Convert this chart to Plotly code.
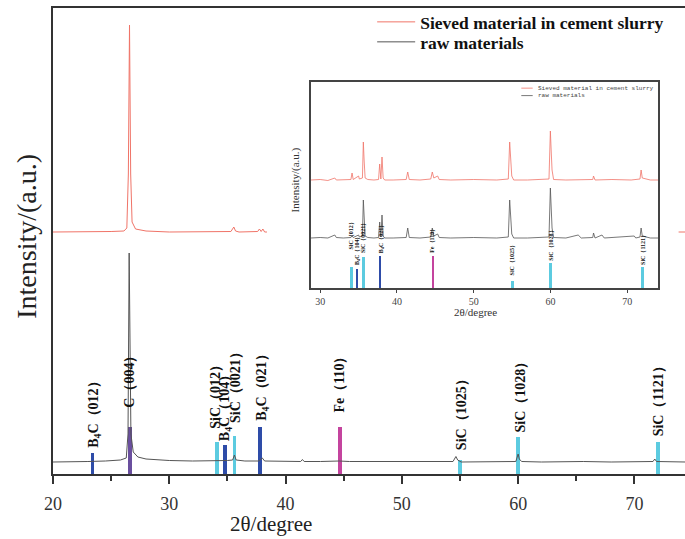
import plotly.graph_objects as go

# ---------------- main pattern data (2theta, intensity a.u.) ----------------
raw_x = [20, 21.5, 23, 24.5, 25.8, 26.3, 26.45, 26.55, 26.62, 26.7, 26.9, 27.3, 28, 30, 32, 33.5,
         34.1, 35.0, 35.45, 35.6, 35.75, 36.5, 37.7, 38.0, 38.2, 39.5, 41.3, 41.45, 41.6, 43, 44.6,
         45.5, 48, 50, 52, 54.4, 54.65, 54.8, 55.1, 57, 59.8, 60.0, 60.1, 60.3, 62, 65.6, 68, 71.6,
         71.75, 71.9, 73, 74.4]
raw_y = [12, 12, 12.5, 13, 14, 16, 40, 221, 120, 40, 22, 17, 15, 13.5, 13, 13,
         13.5, 13.5, 14, 19, 14, 13, 13, 16, 13, 12.5, 12.5, 14.5, 12.5, 12.5, 13,
         12.5, 12.5, 12, 12, 12.5, 17.5, 14, 12, 12, 12.5, 20, 15, 12.5, 12, 12.5, 12, 12.5,
         15, 12.5, 12, 12]

sieved_x = [20, 22, 23.4, 23.6, 25, 26.1, 26.35, 26.48, 26.58, 26.68, 26.8, 27.1, 28, 30, 32, 34,
            35.3, 35.55, 35.7, 36, 37, 37.6, 37.75, 37.9, 38.05, 38.2, 38.4, None, 73.8, 74.4]
sieved_y = [242, 242, 242.5, 242, 242.5, 243, 246, 300, 449, 300, 252, 245, 243, 242, 242, 242,
            242.5, 247, 243, 242, 242, 242.5, 245, 242.5, 245, 242, 242, None, 242, 242]

# ---------------- reference sticks ----------------
ref_pos = [23.4, 26.6, 34.1, 34.8, 35.6, 37.8, 44.7, 55.0, 60.0, 72.0]
ref_phase = ["B4C", "C", "SiC", "B4C", "SiC", "B4C", "Fe", "SiC", "SiC", "SiC"]
ref_main_h = [21, 47, 32, 29, 38, 47, 47, 14, 37, 32]
ref_labels = ["B<sub>4</sub>C（012）", "C（004）", "SiC（012）", "B<sub>4</sub>C（104）",
              "SiC（0021）", "B<sub>4</sub>C（021）", "Fe（110）", "SiC（1025）", "SiC（1028）",
              "SiC（1121）"]
label_x = [23.55, 26.55, 33.95, 34.85, 35.65, 38.0, 44.6, 55.1, 60.2, 72.1]
label_base = [24, 64, 43, 31, 49, 51, 59, 22, 40, 36]

phase_colors = {"B4C": "#2e4ca8", "C": "#6a4f9e", "SiC": "#5ccbe0", "Fe": "#c4449e"}

# ---------------- inset data ----------------
ins_sieved_x = [28.8, 30, 31, 31.9, 32.1, 33, 34.0, 34.15, 34.3, 35.0, 35.1, 35.5, 35.62, 35.72,
                35.85, 36.2, 37, 37.6, 37.75, 37.9, 38.05, 38.2, 38.4, 39.5, 41.2, 41.4, 41.6, 43,
                44.4, 44.6, 44.8, 45.3, 45.5, 47, 50, 53, 54.5, 54.68, 54.8, 54.95, 55.2, 57, 59.8,
                59.98, 60.1, 60.2, 60.4, 62, 65.5, 65.6, 65.8, 68, 70.5, 71.65, 71.8, 71.95, 73, 74]
ins_sieved_y = [108, 108.5, 107.5, 110, 108, 108, 108.5, 115, 108.5, 112, 109, 110, 146, 128,
                110, 108.5, 108, 108.5, 124, 109, 131, 110, 108, 108, 108.5, 116, 108.5, 108,
                109, 116, 110, 112, 108.5, 108, 108.5, 108, 109, 146, 131, 112, 108, 108, 109,
                157, 135, 118, 108.5, 108, 108.5, 112, 108, 108.5, 108, 109, 118, 110, 108, 108]

ins_raw_x = [28.8, 30, 31, 31.9, 32.1, 33, 34.0, 34.15, 34.3, 35.0, 35.1, 35.5, 35.62, 35.72,
             35.85, 36.2, 37, 37.6, 37.75, 37.9, 38.05, 38.2, 38.4, 39.5, 41.2, 41.4, 41.6, 43,
             44.4, 44.6, 44.8, 45.3, 45.5, 47, 50, 53, 54.5, 54.68, 54.8, 54.95, 55.2, 57, 59.8,
             59.98, 60.1, 60.2, 60.4, 62, 63.6, 64, 65.5, 65.6, 65.8, 66.7, 67, 70.9, 71.1, 71.65,
             71.8, 71.95, 73, 74]
ins_raw_y = [50, 50.5, 50, 53, 50.5, 50, 50.5, 52, 50.5, 53, 51, 52, 88, 66,
             52, 50.5, 50, 50.5, 66, 51, 73, 52, 50, 50, 50.5, 60, 50.5, 50,
             51, 60, 52, 54, 50.5, 50, 50.5, 50, 51, 88, 73, 54, 50, 50, 51,
             100, 78, 60, 50.5, 50, 53, 50, 50.5, 55, 50, 53, 50, 52, 50, 51,
             60, 52, 50, 50]

ins_ref_h = [21, 19, 31, 32, 32, 7, 25, 21]
ins_ref_pos = [34.1, 34.8, 35.6, 37.8, 44.7, 55.0, 60.0, 72.0]
ins_ref_phase = ["SiC", "B4C", "SiC", "B4C", "Fe", "SiC", "SiC", "SiC"]
ins_labels = ["SiC（012）", "B<sub>4</sub>C（104）", "SiC（0021）", "B<sub>4</sub>C（021）",
              "Fe（110）", "SiC（1025）", "SiC（1028）", "SiC（1121）"]
ins_label_x = [33.95, 34.85, 35.65, 38.0, 44.6, 55.1, 60.1, 72.1]
ins_label_base = [36, 21, 33, 33, 33, 11, 25, 21]

RED = "#f07468"
GRAY = "#555555"
SERIF = "Liberation Serif"

fig = go.Figure()

# main curves
fig.add_trace(go.Scatter(x=sieved_x, y=sieved_y, mode="lines", connectgaps=False,
                         line=dict(color=RED, width=1), legend="legend",
                         name="<b>Sieved material in cement slurry</b>"))
fig.add_trace(go.Scatter(x=raw_x, y=raw_y, mode="lines", legend="legend2",
                         line=dict(color=GRAY, width=1), name="<b>raw materials</b>"))

# main sticks
fig.add_trace(go.Bar(x=ref_pos, y=ref_main_h, width=0.32,
                     marker=dict(color=[phase_colors[p] for p in ref_phase], line=dict(width=0)),
                     showlegend=False, hoverinfo="skip"))

# inset curves
fig.add_trace(go.Scatter(x=ins_sieved_x, y=ins_sieved_y, mode="lines", xaxis="x2", yaxis="y2",
                         line=dict(color=RED, width=0.8), showlegend=False))
fig.add_trace(go.Scatter(x=ins_raw_x, y=ins_raw_y, mode="lines", xaxis="x2", yaxis="y2",
                         line=dict(color=GRAY, width=0.8), showlegend=False))
fig.add_trace(go.Bar(x=ins_ref_pos, y=ins_ref_h, width=0.36, xaxis="x2", yaxis="y2",
                     marker=dict(color=[phase_colors[p] for p in ins_ref_phase], line=dict(width=0)),
                     showlegend=False, hoverinfo="skip"))

annotations = []
for lx, lb, txt in zip(label_x, label_base, ref_labels):
    annotations.append(dict(x=lx, y=lb, xref="x", yref="y", text="<b>" + txt + "</b>",
                            textangle=-90, showarrow=False, xanchor="center", yanchor="bottom",
                            font=dict(family=SERIF, size=14, color="#111111")))
for lx, lb, txt in zip(ins_label_x, ins_label_base, ins_labels):
    annotations.append(dict(x=lx, y=lb, xref="x2", yref="y2", text="<b>" + txt + "</b>",
                            textangle=-90, showarrow=False, xanchor="center", yanchor="bottom",
                            font=dict(family=SERIF, size=6, color="#111111")))

# axis titles
annotations.append(dict(x=0.345, y=-0.107, xref="paper", yref="paper", text="2θ/degree",
                        showarrow=False, xanchor="center", yanchor="middle",
                        font=dict(family=SERIF, size=21, color="#222222")))
annotations.append(dict(x=-0.042, y=0.51, xref="paper", yref="paper", text="Intensity/(a.u.)",
                        showarrow=False, textangle=-90, xanchor="center", yanchor="middle",
                        font=dict(family=SERIF, size=28, color="#222222")))
# inset titles
annotations.append(dict(x=0.669, y=0.347, xref="paper", yref="paper", text="2θ/degree",
                        showarrow=False, xanchor="center", yanchor="middle",
                        font=dict(family=SERIF, size=11, color="#333333")))
annotations.append(dict(x=0.383, y=0.63, xref="paper", yref="paper", text="Intensity/(a.u.)",
                        showarrow=False, textangle=-90, xanchor="center", yanchor="middle",
                        font=dict(family=SERIF, size=11, color="#333333")))
# inset legend texts
annotations.append(dict(x=0.764, y=0.828, xref="paper", yref="paper",
                        text="Sieved material in cement slurry", showarrow=False,
                        xanchor="left", yanchor="middle",
                        font=dict(family="Liberation Mono", size=6, color="#444444")))
annotations.append(dict(x=0.764, y=0.812, xref="paper", yref="paper",
                        text="raw materials", showarrow=False,
                        xanchor="left", yanchor="middle",
                        font=dict(family="Liberation Mono", size=6, color="#444444")))

shapes = [
    dict(type="line", xref="paper", yref="paper", x0=0.741, x1=0.759, y0=0.828, y1=0.828,
         line=dict(color=RED, width=0.8)),
    dict(type="line", xref="paper", yref="paper", x0=0.741, x1=0.759, y0=0.812, y1=0.812,
         line=dict(color=GRAY, width=0.8)),
]

legend_common = dict(xanchor="left", yanchor="top", bgcolor="rgba(0,0,0,0)",
                     font=dict(family=SERIF, size=17.5, color="#111111"), itemwidth=38)

fig.update_layout(
    width=685, height=539,
    margin=dict(l=53, r=0, t=8, b=65),
    paper_bgcolor="white", plot_bgcolor="white",
    bargap=0,
    font=dict(family=SERIF),
    showlegend=True,
    legend=dict(x=0.505, y=1.0086, **legend_common),
    legend2=dict(x=0.505, y=0.9657, **legend_common),
    xaxis=dict(range=[20, 74.35], domain=[0, 1], showgrid=False, zeroline=False,
               showline=True, linecolor="#333333", linewidth=2, mirror=True,
               ticks="outside", ticklen=8, tickwidth=1.5, tickcolor="#333333",
               tickvals=[20, 30, 40, 50, 60, 70], ticklabelstandoff=4,
               minor=dict(tickvals=[25, 35, 45, 55, 65], ticks="outside", ticklen=5,
                          tickwidth=1.5, tickcolor="#333333"),
               tickfont=dict(family=SERIF, size=18, color="#333333")),
    yaxis=dict(range=[0, 466], domain=[0, 1], showgrid=False, zeroline=False,
               showline=True, linecolor="#333333", linewidth=2, mirror=False,
               showticklabels=False, ticks=""),
    xaxis2=dict(range=[28.8, 74.0], domain=[0.4082, 0.9573], anchor="y2",
                showgrid=False, zeroline=False, showline=True, linecolor="#444444",
                linewidth=1.5, mirror=True, ticks="outside", ticklen=3, tickwidth=1,
                tickcolor="#444444", tickvals=[30, 40, 50, 60, 70],
                tickfont=dict(family=SERIF, size=10, color="#444444")),
    yaxis2=dict(range=[0, 206], domain=[0.3991, 0.8412], anchor="x2",
                showgrid=False, zeroline=False, showline=True, linecolor="#444444",
                linewidth=1.5, mirror=True, showticklabels=False, ticks=""),
    annotations=annotations,
    shapes=shapes,
)

fig.write_html("out.html")
